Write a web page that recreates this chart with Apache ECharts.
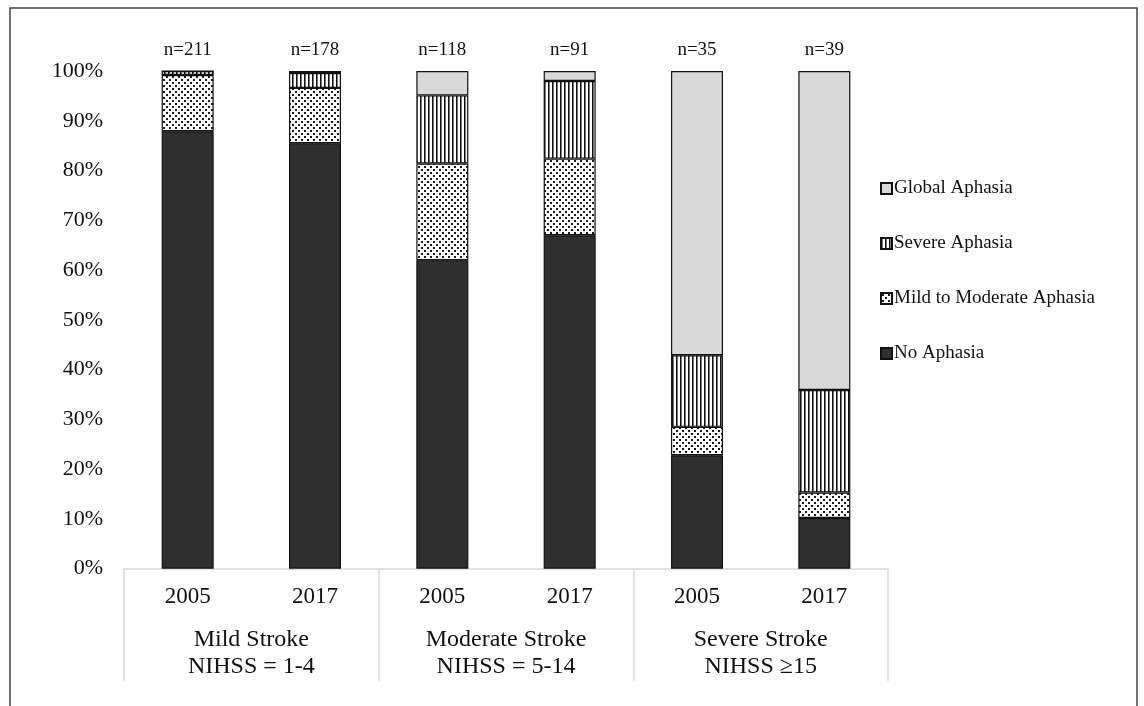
<!DOCTYPE html>
<html>
<head>
<meta charset="utf-8">
<script src="https://cdn.jsdelivr.net/npm/echarts@6/dist/echarts.min.js"></script>
<style>
html,body{margin:0;padding:0;background:#fff;}
#chart{width:1144px;height:706px;}
</style>
</head>
<body>
<div id="chart"></div>
<script>
// ---- data ----
var categories = ['2005', '2017', '2005', '2017', '2005', '2017'];
var groups = ['Mild Stroke\nNIHSS = 1-4', 'Moderate Stroke\nNIHSS = 5-14', 'Severe Stroke\nNIHSS \u226515'];
var nLabels = ['n=211', 'n=178', 'n=118', 'n=91', 'n=35', 'n=39'];
var noAphasia = [87.9, 85.5, 62.0, 67.0, 22.8, 10.2];
var mildModerate = [11.3, 11.1, 19.4, 15.4, 5.7, 5.1];
var severeAphasia = [0.8, 3.0, 13.7, 15.6, 14.4, 20.6];
var globalAphasia = [0, 0.4, 4.9, 2.0, 57.1, 64.1];
var seriesNames = ['No Aphasia', 'Mild to Moderate Aphasia', 'Severe Aphasia', 'Global Aphasia'];

// ---- patterns ----
function dotPattern() {
  var c = document.createElement('canvas');
  c.width = 6; c.height = 6;
  var g = c.getContext('2d');
  g.fillStyle = '#ffffff'; g.fillRect(0, 0, 6, 6);
  g.fillStyle = '#1a1a1a';
  g.fillRect(1, 1, 2, 2);
  g.fillRect(4, 4, 2, 2);
  return {image: c, repeat: 'repeat'};
}
function stripePattern() {
  var c = document.createElement('canvas');
  c.width = 4; c.height = 4;
  var g = c.getContext('2d');
  g.fillStyle = '#ffffff'; g.fillRect(0, 0, 4, 4);
  g.fillStyle = '#111111'; g.fillRect(0, 0, 1, 4);
  g.fillStyle = '#777777'; g.fillRect(1, 0, 1, 4);
  return {image: c, repeat: 'repeat'};
}

var font = 'Liberation Serif';
var chart = echarts.init(document.getElementById('chart'));

function barSeries(name, data, color, extra) {
  var s = {
    name: name,
    type: 'bar',
    stack: 'total',
    barWidth: 52,
    data: data,
    itemStyle: {color: color, borderColor: '#111', borderWidth: 1.2},
    emphasis: {disabled: true}
  };
  if (extra) Object.assign(s, extra);
  return s;
}

var option = {
  animation: false,
  backgroundColor: '#fff',
  textStyle: {fontFamily: font, color: '#111'},
  grid: {left: 124, right: 256, top: 71, bottom: 137.3, containLabel: false},
  legend: {
    orient: 'vertical',
    left: 875,
    top: 174,
    itemWidth: 11,
    itemHeight: 11,
    itemGap: 36,
    data: ['Global Aphasia', 'Severe Aphasia', 'Mild to Moderate Aphasia', 'No Aphasia'],
    textStyle: {fontFamily: font, fontSize: 19, color: '#111', padding: [0, 0, 0, -3]},
    icon: 'rect'
  },
  xAxis: [
    {
      type: 'category',
      data: categories,
      position: 'bottom',
      axisLine: {show: true, lineStyle: {color: '#d9d9d9', width: 1.5}},
      axisTick: {show: false},
      axisLabel: {fontFamily: font, fontSize: 23, color: '#111', margin: 17}
    },
    {
      type: 'category',
      data: groups,
      position: 'bottom',
      axisLine: {show: false},
      axisTick: {show: true, length: 112, lineStyle: {color: '#d9d9d9', width: 1.5}},
      axisLabel: {fontFamily: font, fontSize: 24, color: '#111', margin: 58, lineHeight: 27}
    }
  ],
  yAxis: {
    type: 'value',
    min: 0,
    max: 100,
    interval: 10,
    axisLine: {show: false},
    axisTick: {show: false},
    splitLine: {show: false},
    axisLabel: {formatter: '{value}%', fontFamily: font, fontSize: 22, color: '#111', margin: 21}
  },
  series: [
    barSeries(seriesNames[0], noAphasia, '#2f2f2f'),
    barSeries(seriesNames[1], mildModerate, dotPattern()),
    barSeries(seriesNames[2], severeAphasia, stripePattern()),
    barSeries(seriesNames[3], globalAphasia, '#d9d9d9', {
      label: {
        show: true,
        position: 'top',
        distance: 11,
        fontFamily: font,
        fontSize: 19,
        color: '#111',
        formatter: function (p) { return nLabels[p.dataIndex]; }
      }
    })
  ],
  graphic: [
    {
      type: 'rect',
      shape: {x: 10, y: 8, width: 1127, height: 720},
      style: {fill: null, stroke: '#444', lineWidth: 1.5},
      silent: true
    }
  ]
};
chart.setOption(option);
</script>
</body>
</html>
